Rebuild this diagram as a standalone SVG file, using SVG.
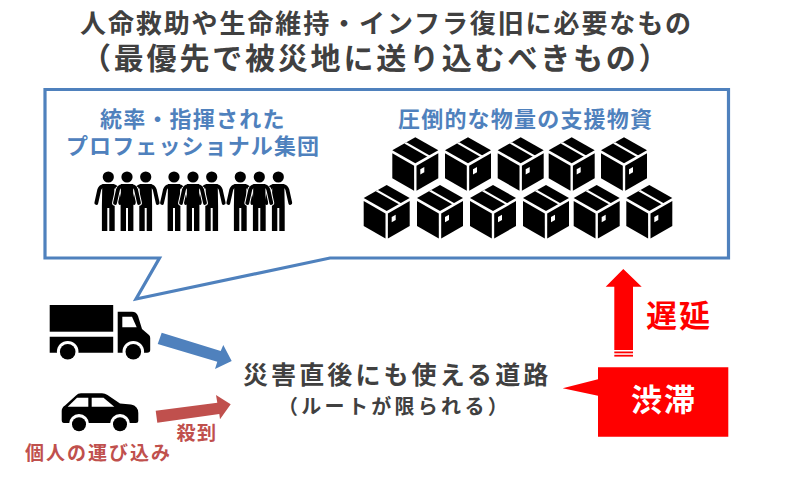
<svg xmlns="http://www.w3.org/2000/svg" xmlns:xlink="http://www.w3.org/1999/xlink" width="790" height="480" viewBox="0 0 790 480">
<style>
text{font-family:"Noto Sans CJK JP","Noto Sans",sans-serif;font-weight:700}
.dark{fill:#404040}
.blue{fill:#4F81BD}
.rose{fill:#C0504D}
.k{fill:#000}
.w{fill:#fff}
.limb{fill:none;stroke:#000;stroke-width:3.800;stroke-linecap:round;stroke-linejoin:round}
.halo{fill:none;stroke:#fff;stroke-width:5.800;stroke-linecap:round;stroke-linejoin:round}
</style>
<defs>
<g id="person">
<circle cx="0" cy="0" r="5.600" class="k"/>
<path class="limb" d="M-5,9 Q-8,9.500 -9,12.500 L-12,26 M5,9 Q8,9.500 9,12.500 L12,26"/>
<path class="k" d="M-6,7 H6 L6.400,29 V54 H1 V31 H-1 V54 H-6.400 V29 Z"/>
</g>
<g id="person-mid">
<path class="halo" d="M-9,12.500 L-12,26 M9,12.500 L12,26"/>
<use href="#person"/>
</g>
<g id="box">
<path class="k" d="M0,0 L23,13 L0,26 L-23,13 Z"/>
<path class="w" d="M-11,6.200 L-8.800,5 L16.600,19.400 L14.400,20.600 Z"/>
<path class="k" d="M-23,16 L-1.200,28.500 V53.500 L-23,41 Z"/>
<path class="k" d="M1.200,28.500 L23,16 V41 L1.200,53.500 Z"/>
<path class="w" d="M5,32 L9,29.800 V35 L5,37.200 Z"/>
</g>
</defs>
<rect width="790" height="480" fill="#fff"/>

<g id="title">
<text class="dark" x="80" y="33" font-size="26" letter-spacing="1.900">人命救助や生命維持・インフラ復旧に必要なもの</text>
<text class="dark" x="81" y="69" font-size="30" letter-spacing="2.800">（最優先で被災地に送り込むべきもの）</text>
</g>

<g id="callout">
<path d="M45,89.500 H728.500 V258 H330 L136,299 L159.500,258 H45 Z" fill="#fff" stroke="#4F81BD" stroke-width="3.200"/>
</g>

<g id="personnel">
<text class="blue" x="100" y="127" font-size="22" letter-spacing="1.200">統率・指揮された</text>
<text class="blue" x="66" y="154" font-size="22" letter-spacing="1.100">プロフェッショナル集団</text>
<use href="#person" x="108.300" y="177"/>
<use href="#person" x="145.700" y="177"/>
<use href="#person-mid" x="127" y="177"/>
<use href="#person" x="174" y="177"/>
<use href="#person" x="211.700" y="177"/>
<use href="#person-mid" x="193" y="177"/>
<use href="#person" x="240.300" y="177"/>
<use href="#person" x="278.300" y="177"/>
<use href="#person-mid" x="259.300" y="177"/>
</g>

<g id="supplies">
<text class="blue" x="398" y="127" font-size="22" letter-spacing="1.200">圧倒的な物量の支援物資</text>
<use href="#box" x="415.300" y="137.300"/>
<use href="#box" x="468" y="137.300"/>
<use href="#box" x="520.700" y="137.300"/>
<use href="#box" x="571.700" y="137.300"/>
<use href="#box" x="624" y="137.300"/>
<use href="#box" x="386.700" y="185"/>
<use href="#box" x="440" y="185"/>
<use href="#box" x="493" y="185"/>
<use href="#box" x="546" y="185"/>
<use href="#box" x="596.700" y="185"/>
<use href="#box" x="649.300" y="185"/>
</g>

<g id="truck">
<rect class="k" x="49.700" y="305" width="63.500" height="26.700"/>
<path class="k" d="M49.700,336.700 H113.200 V352.700 H49.700 Z"/>
<path class="k" d="M117.700,311.700 H132 Q136.500,311.700 138,316 L142,329 L149,335 Q150.200,336 150.200,338 V350 Q150.200,352.700 147,352.700 H117.700 Z"/>
<circle class="w" cx="67.700" cy="351.700" r="10.800"/>
<circle class="w" cx="133.300" cy="351.700" r="10.800"/>
<rect class="w" x="40" y="353" width="115" height="10"/>
<circle class="k" cx="67.700" cy="351.700" r="7.800"/>
<circle class="k" cx="133.300" cy="351.700" r="7.800"/>
<path class="w" d="M122.300,316.700 H132 L136.700,327.300 H122.300 Z"/>
</g>

<g id="car">
<path class="k" d="M61.700,411 Q61.700,407.500 65,405.500 L76,395.500 Q78,393.300 81,393.300 H102 Q105,393.300 107.500,395 L120,403.500 L131,404.500 Q138.300,406 138.300,413 V421 Q138.300,423 136,423 H64 Q61.700,423 61.700,420 Z"/>
<circle class="w" cx="79" cy="424" r="10"/>
<circle class="w" cx="120" cy="424" r="10"/>
<rect class="w" x="60" y="424.500" width="80" height="10"/>
<circle class="k" cx="79" cy="424.300" r="7"/>
<circle class="k" cx="120" cy="424.300" r="7"/>
<path class="w" d="M67.700,406.700 L77,397.700 H88.300 V406.700 Z"/>
<path class="w" d="M91.700,397.700 H103.500 L114.300,406.700 H91.700 Z"/>
<text class="rose" x="25" y="460" font-size="19" letter-spacing="2">個人の運び込み</text>
</g>

<g id="connectors">
<path id="arrow-truck" fill="#4F81BD" d="M161.700,332.700 L220.700,351 L223.300,345 L231.700,361 L215,369 L217.300,361.700 L157.700,344 Z"/>
<path id="arrow-car" fill="#C0504D" d="M155.700,410.700 L217.300,402.700 L216,395 L230.700,404.300 L220,419.300 L219.300,414 L157.300,422.700 Z"/>
<path id="arrow-delay" fill="#FF0000" d="M623.300,269 L641.700,286.700 H633 V350 H614.300 V286.700 H605.700 Z"/>
<rect fill="#FF0000" x="614.300" y="351.500" width="18.700" height="1.800"/>
<rect fill="#FF0000" x="614.300" y="354.800" width="18.700" height="1.800"/>
</g>
<g id="delay-label">
<text fill="#FF0000" x="646" y="327" font-size="31" letter-spacing="2">遅延</text>
</g>
<g id="rush-label">
<text class="rose" x="176.500" y="440" font-size="19" letter-spacing="1.500">殺到</text>
</g>

<g id="road">
<text class="dark" x="243" y="384" font-size="25" letter-spacing="3.100">災害直後にも使える道路</text>
<text class="dark" x="278" y="414" font-size="20" letter-spacing="3.300" font-weight="500">（ルートが限られる）</text>
</g>

<g id="congestion">
<path fill="#FF0000" d="M598,367.300 H728.300 V436.700 H598 V395.700 L562.700,388.300 L598,379.300 Z"/>
<text class="w" x="631" y="411" font-size="31" letter-spacing="2">渋滞</text>
</g>
</svg>
